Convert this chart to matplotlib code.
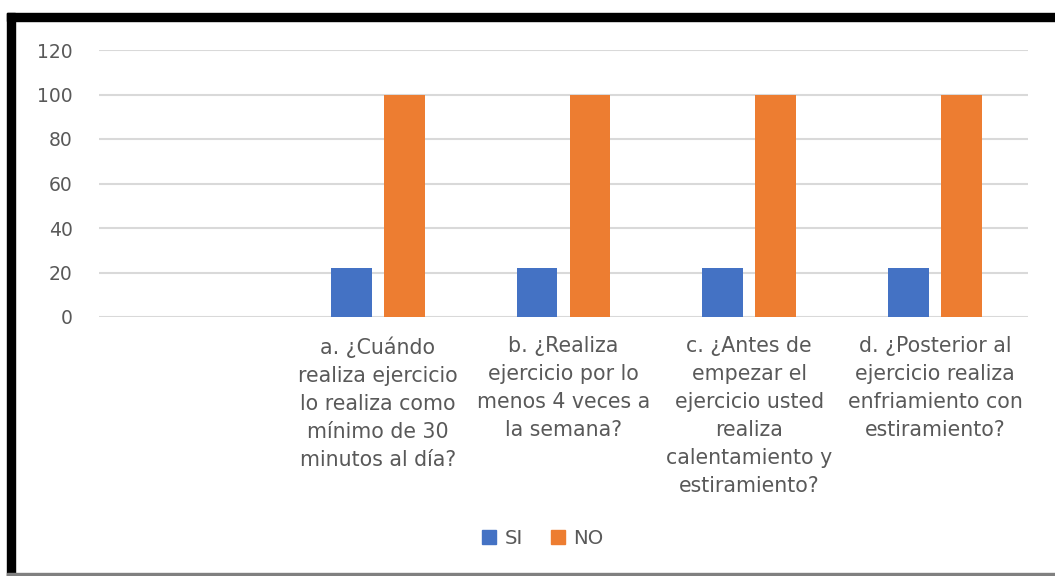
import numpy as np
import matplotlib.pyplot as plt
from matplotlib.patches import Patch, Rectangle

plt.rcParams['font.family'] = ['DejaVu Sans']

preguntas = [
    "",
    "a. ¿Cuándo\nrealiza ejercicio\nlo realiza como\nmínimo de 30\nminutos al día?",
    "b. ¿Realiza\nejercicio por lo\nmenos 4 veces a\nla semana?",
    "c. ¿Antes de\nempezar el\nejercicio usted\nrealiza\ncalentamiento y\nestiramiento?",
    "d. ¿Posterior al\nejercicio realiza\nenfriamiento con\nestiramiento?",
]
si = [np.nan, 22, 22, 22, 22]
no = [np.nan, 100, 100, 100, 100]
yticks = [0, 20, 40, 60, 80, 100, 120]

azul = "#4472C4"
naranja = "#ED7D31"
gris = "#595959"

W, H = 1055, 576
fig = plt.figure(figsize=(W / 100, H / 100), dpi=100)
ax = fig.add_axes([99 / W, 1 - 317 / H, (1028 - 99) / W, (317 - 50) / H])

x = np.arange(len(preguntas))
ancho = 0.22
sep = 0.1426
ax.bar(x - sep, si, ancho, color=azul, zorder=3)
ax.bar(x + sep, no, ancho, color=naranja, zorder=3)

ax.set_xlim(-0.5, len(preguntas) - 0.5)
ax.set_ylim(0, 120)
ax.set_yticks(yticks)
ax.set_xticks(x)
ax.set_xticklabels(preguntas, fontsize=14.8, color=gris, linespacing=1.5)
ax.tick_params(axis='y', length=0, pad=19, labelsize=13.5, labelcolor=gris)
ax.tick_params(axis='x', length=0, pad=14)
ax.grid(axis='y', color="#D9D9D9", linewidth=1.5, zorder=0)
for s in ax.spines.values():
    s.set_visible(False)

handles = [Patch(color=azul, label="SI"), Patch(color=naranja, label="NO")]
leg = fig.legend(handles=handles, loc='center', bbox_to_anchor=(543 / W, 1 - 538 / H),
                 ncol=2, frameon=False, fontsize=14.2, handlelength=0.7, handleheight=0.7,
                 handletextpad=0.45, columnspacing=1.4)
for t in leg.get_texts():
    t.set_color(gris)

# marco negro del recuadro
tf = fig.transFigure
fig.add_artist(Rectangle((7 / W, 0), 8 / W, 1 - 13 / H, color="black", transform=tf))
fig.add_artist(Rectangle((7 / W, 1 - 21 / H), 1, 8 / H, color="black", transform=tf))
fig.add_artist(Rectangle((7 / W, 0), 1, 3 / H, color="#808080", transform=tf))

fig.savefig("out.png", dpi=100)
